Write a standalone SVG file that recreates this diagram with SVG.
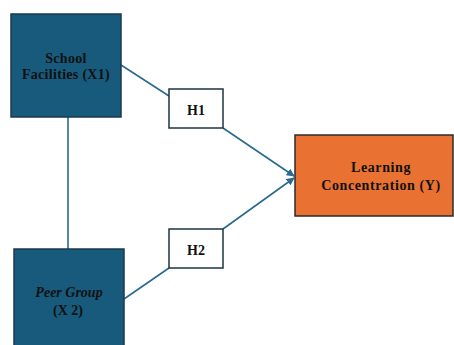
<svg xmlns="http://www.w3.org/2000/svg" width="454" height="345" viewBox="0 0 454 345">
<style>
.lbl{font-family:"Liberation Serif","Times New Roman",serif;font-weight:bold;font-size:14px;fill:#111;text-anchor:middle}
.blue{fill:#175a7b;stroke:#1e3a4c;stroke-width:1.5}
.hyp{fill:#fff;stroke:#1c3440;stroke-width:1.5}
.orange{fill:#e97132;stroke:#2b2b2b;stroke-width:1.5}
.conn{stroke:#2a6a8c;stroke-width:1.6;fill:none}
</style>
<defs>
<marker id="arr" viewBox="0 0 10 10" refX="9" refY="5" markerWidth="5" markerHeight="5" orient="auto-start-reverse" markerUnits="strokeWidth">
<path d="M0,0 L10,5 L0,10 z" fill="#2a6a8c"/>
</marker>
</defs>
<rect width="454" height="345" fill="#fff"/>
<g id="connectors">
<line class="conn" x1="68" y1="117" x2="68" y2="249"/>
<line class="conn" x1="121" y1="65" x2="169" y2="96"/>
<line class="conn" x1="124" y1="299" x2="169" y2="268"/>
<line class="conn" x1="223" y1="128" x2="294" y2="176" marker-end="url(#arr)"/>
<line class="conn" x1="223" y1="229" x2="294" y2="178" marker-end="url(#arr)"/>
</g>
<g id="x1">
<rect class="blue" x="11" y="14" width="110" height="103"/>
<text class="lbl" x="66" y="63" letter-spacing="0.3">School</text>
<text class="lbl" x="66" y="79" letter-spacing="0.3">Facilities (X1)</text>
</g>
<g id="x2">
<rect class="blue" x="14" y="249" width="110" height="110"/>
<text class="lbl" x="69" y="297" font-style="italic">Peer Group</text>
<text class="lbl" x="68" y="315">(X 2)</text>
</g>
<g id="h1">
<rect class="hyp" x="169" y="89" width="54" height="39"/>
<text class="lbl" x="196" y="115">H1</text>
</g>
<g id="h2">
<rect class="hyp" x="169" y="229" width="54" height="39"/>
<text class="lbl" x="196" y="255">H2</text>
</g>
<g id="y">
<rect class="orange" x="295" y="135" width="158" height="81"/>
<text class="lbl" x="381" y="172" letter-spacing="0.6">Learning</text>
<text class="lbl" x="381" y="190" letter-spacing="0.6">Concentration (Y)</text>
</g>
</svg>
